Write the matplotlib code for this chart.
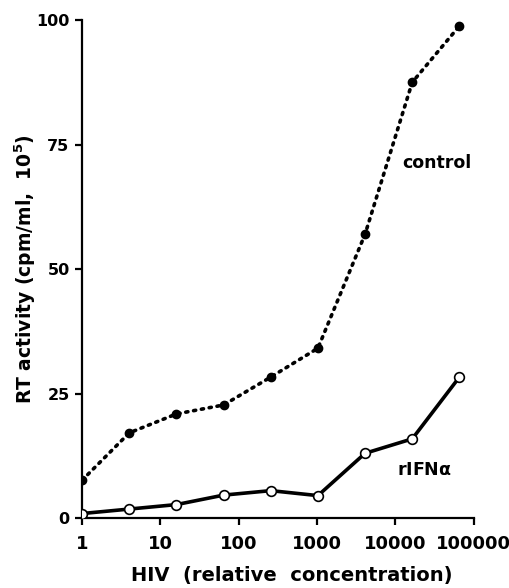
import matplotlib
matplotlib.use("Agg")
import matplotlib.pyplot as plt
from matplotlib.ticker import FixedLocator, FixedFormatter, NullLocator

hiv_conc = [1, 4, 16, 64, 256, 1024, 4096, 16384, 65536]
control = [7.6, 17.1, 20.9, 22.7, 28.3, 34.1, 57.0, 87.5, 98.8]
rifn = [0.9, 1.8, 2.7, 4.6, 5.5, 4.5, 13.0, 15.9, 28.3]
xticks = [1, 10, 100, 1000, 10000, 100000]
xticklabels = ["1", "10", "100", "1000", "10000", "100000"]
yticks = [0, 25, 50, 75, 100]
yticklabels = ["0", "25", "50", "75", "100"]

plt.rcParams['font.family'] = ['DejaVu Sans']
plt.rcParams['mathtext.fontset'] = 'dejavusans'

fig = plt.figure(figsize=(5.10, 5.88), dpi=100)
ax = fig.add_axes([0.161, 0.119, 0.768, 0.847])

ax.plot(hiv_conc, control, linestyle=(0, (0.6, 1.6)), color='black', lw=2.6,
        dash_capstyle='round', marker='o', markersize=6, markerfacecolor='black',
        markeredgecolor='black', zorder=3)
ax.plot(hiv_conc, rifn, linestyle='-', color='black', lw=2.6,
        marker='o', markersize=7, markerfacecolor='white',
        markeredgecolor='black', markeredgewidth=1.2, zorder=3)

ax.set_xscale('log')
ax.set_xlim(1, 100000)
ax.set_ylim(0, 100)
ax.xaxis.set_major_locator(FixedLocator(xticks))
ax.xaxis.set_major_formatter(FixedFormatter(xticklabels))
ax.xaxis.set_minor_locator(NullLocator())
ax.yaxis.set_major_locator(FixedLocator(yticks))
ax.yaxis.set_major_formatter(FixedFormatter(yticklabels))

for s in ['top', 'right']:
    ax.spines[s].set_visible(False)
for s in ['left', 'bottom']:
    ax.spines[s].set_linewidth(1.6)

ax.tick_params(axis='both', direction='out', length=5, width=1.6)
ax.tick_params(axis='x', pad=7)
ax.tick_params(axis='y', pad=4)
for lab in ax.get_xticklabels():
    lab.set_fontsize(13)
    lab.set_fontweight('bold')
for lab in ax.get_yticklabels():
    lab.set_fontsize(11.5)
    lab.set_fontweight('bold')

ax.set_xlabel('HIV  (relative  concentration)', fontsize=14, fontweight='bold')
ax.set_ylabel(r'RT activity (cpm/ml,  10$^{\mathbf{5}}$)', fontsize=13.5, fontweight='bold')
ax.xaxis.set_label_coords(0.536, -0.115)
ax.yaxis.set_label_coords(-0.145, 0.5)
ax.yaxis.label.set_va('center')
ax.xaxis.label.set_va('center')

ax.text(33900, 71.3, 'control', fontsize=12.5, fontweight='bold', ha='center', va='center')
ax.text(23700, 9.6, r'rIFN$\mathbf{\alpha}$', fontsize=12.5, fontweight='bold', ha='center', va='center')

fig.savefig('out.png', dpi=100)
